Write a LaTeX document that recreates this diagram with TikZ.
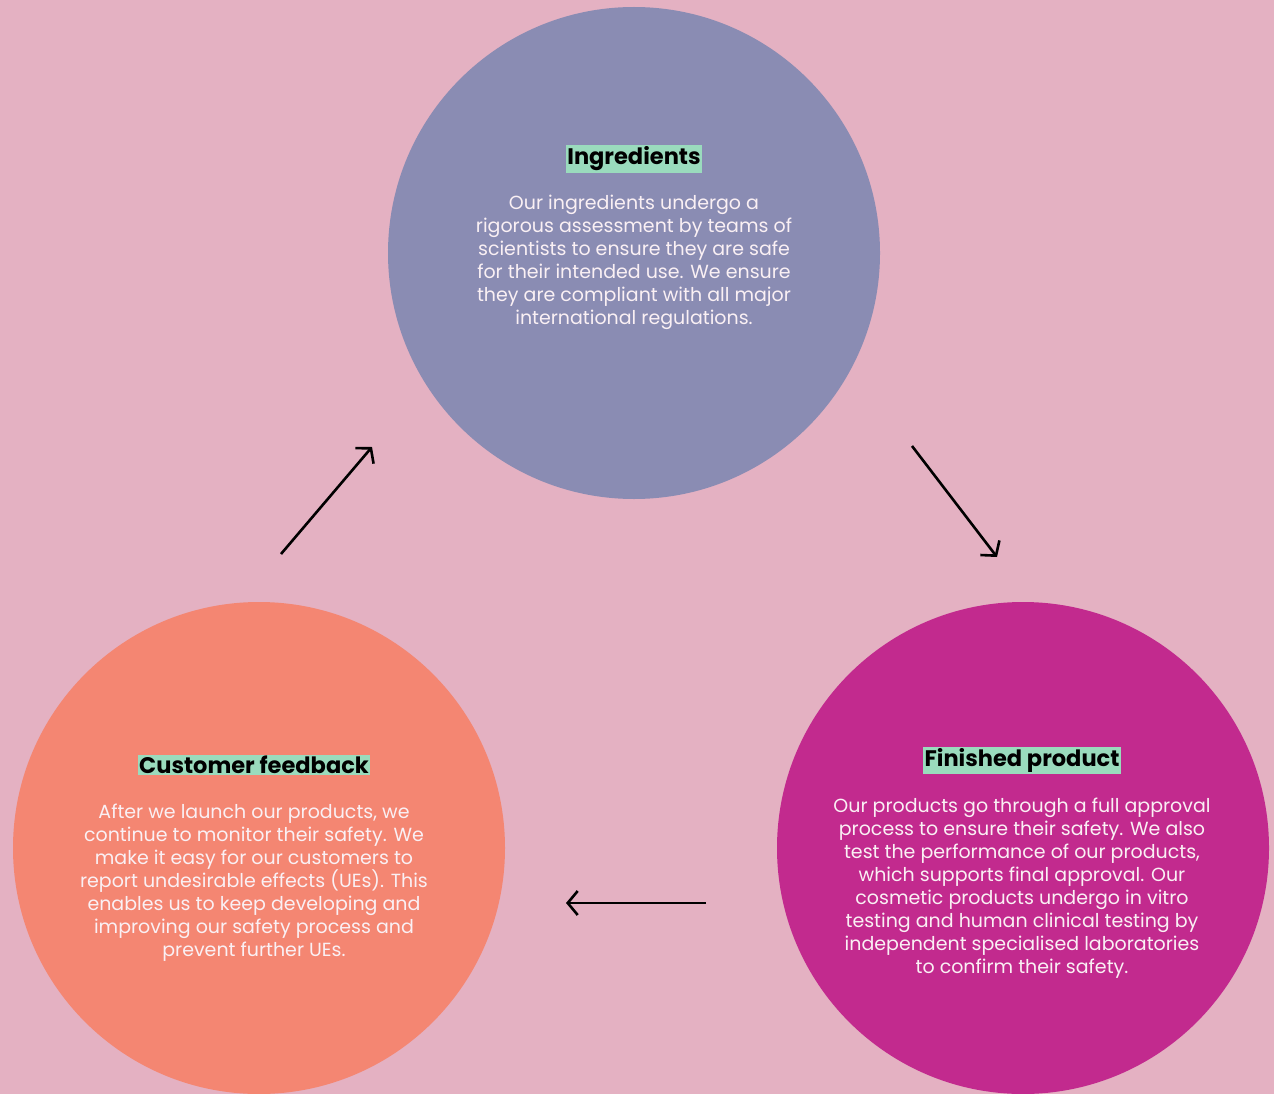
\documentclass[tikz,border=0pt]{standalone}
\usepackage{fontspec}
\setmainfont{Poppins}
\usetikzlibrary{arrows.meta}
\definecolor{bg}{HTML}{E4B1C2}
\definecolor{ingc}{HTML}{8A8CB3}
\definecolor{custc}{HTML}{F48672}
\definecolor{finc}{HTML}{C22A8E}
\definecolor{hl}{HTML}{9ADBBD}
\definecolor{bodytxt}{HTML}{FAF0F4}
\tikzset{
  blob/.style={circle, minimum size=492pt, inner sep=0pt},
  ttl/.style={fill=hl, inner sep=1.5pt, font=\fontsize{22.5}{26}\selectfont\bfseries, text=black},
  body/.style={align=center, text=bodytxt, inner sep=0pt, font=\fontsize{19}{23}\selectfont},
  flow/.style={-{Straight Barb[length=10pt,width=24pt,line width=2.6pt]}, line width=2.6pt, black}
}
\begin{document}
\begin{tikzpicture}[x=1pt,y=-1pt]
\useasboundingbox[fill=bg] (0,0) rectangle (1274,1094);
\node[blob, fill=ingc] (ing) at (634,253) {};
\node[blob, fill=custc] (cust) at (259,848) {};
\node[blob, fill=finc] (fin) at (1023,848) {};
\node[ttl] (ingt) at (634,159) {Ingredients};
\node[body, anchor=north] (ingb) at (634,195) {Our ingredients undergo a\\rigorous assessment by teams of\\scientists to ensure they are safe\\for their intended use. We ensure\\they are compliant with all major\\international regulations.};
\node[ttl] (custt) at (254,765) {Customer feedback};
\node[body, anchor=north] (custb) at (254,804) {After we launch our products, we\\continue to monitor their safety. We\\make it easy for our customers to\\report undesirable effects (UEs). This\\enables us to keep developing and\\improving our safety process and\\prevent further UEs.};
\node[ttl] (fint) at (1022,760) {Finished product};
\node[body, anchor=north] (finb) at (1022,798) {Our products go through a full approval\\process to ensure their safety. We also\\test the performance of our products,\\which supports final approval. Our\\cosmetic products undergo in vitro\\testing and human clinical testing by\\independent specialised laboratories\\to confirm their safety.};
\coordinate (a1s) at (281,554);
\coordinate (a1e) at (372,447);
\coordinate (a2s) at (912,446);
\coordinate (a2e) at (997,557);
\coordinate (a3s) at (706,903);
\coordinate (a3e) at (566,903);
\draw[flow] (a1s) -- (a1e);
\draw[flow] (a2s) -- (a2e);
\draw[flow] (a3s) -- (a3e);
\end{tikzpicture}
\end{document}
